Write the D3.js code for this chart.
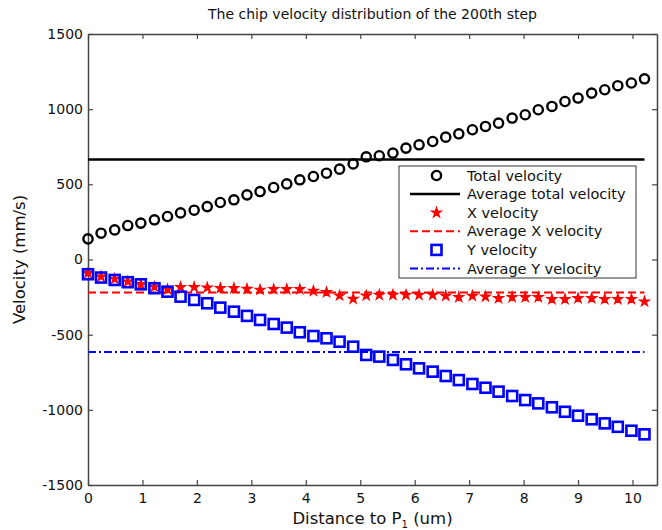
<!DOCTYPE html>
<html>
<head>
<meta charset="utf-8">
<script src="https://cdn.jsdelivr.net/npm/d3@7"></script>
<style>
  body { margin: 0; background: #fff; }
  text { font-family: "DejaVu Sans", sans-serif; fill: #111; }
</style>
</head>
<body>
<div id="chart"></div>
<script>
// distance to P1 (um)
const distance = [0, 0.24, 0.49, 0.73, 0.97, 1.22, 1.46, 1.70, 1.95, 2.19, 2.43,
    2.68, 2.92, 3.16, 3.41, 3.65, 3.89, 4.14, 4.38, 4.62, 4.87, 5.11, 5.35, 5.60,
    5.84, 6.08, 6.33, 6.57, 6.81, 7.06, 7.30, 7.54, 7.79, 8.03, 8.27, 8.52, 8.76,
    9.00, 9.25, 9.49, 9.73, 9.98, 10.22];

const totalVelocity = [137, 175, 197, 226, 242, 264, 286, 310, 328, 352, 379,
    397, 430, 452, 479, 503, 530, 552, 574, 601, 636, 683, 690, 708, 741, 763,
    785, 814, 836, 863, 885, 907, 941, 963, 996, 1018, 1051, 1074, 1107, 1129,
    1156, 1174, 1202];

const xVelocity = [-90, -114, -129, -147, -165, -182, -198, -184, -184, -187,
    -191, -191, -196, -202, -198, -198, -198, -209, -218, -240, -262, -240, -236,
    -236, -236, -236, -236, -242, -251, -242, -247, -258, -251, -251, -251, -264,
    -264, -258, -258, -264, -264, -264, -280];

const yVelocity = [-98, -120, -136, -151, -165, -191, -214, -247, -269, -291,
    -320, -347, -375, -402, -429, -453, -484, -509, -524, -547, -580, -635, -646,
    -668, -697, -724, -746, -775, -802, -828, -853, -879, -908, -935, -957, -983,
    -1013, -1039, -1063, -1090, -1113, -1139, -1163];

const avgTotal = 665;
const avgX = -220;
const avgY = -615;

const xTicks = [0, 1, 2, 3, 4, 5, 6, 7, 8, 9, 10];
const yTicks = [-1500, -1000, -500, 0, 500, 1000, 1500];

const legendLabels = ["Total velocity", "Average total velocity", "X velocity",
    "Average X velocity", "Y velocity", "Average Y velocity"];

// layout
const W = 662, H = 530;
const margin = { top: 34, right: 5, bottom: 45, left: 88 };
const width = W - margin.left - margin.right,
    height = H - margin.top - margin.bottom;

const svg = d3.select("#chart")
    .append("svg")
    .attr("width", W)
    .attr("height", H);

const g = svg.append("g")
    .attr("transform", `translate(${margin.left},${margin.top})`);

const x = d3.scaleLinear().domain([0, 10.45]).range([0, width]);
const y = d3.scaleLinear().domain([-1500, 1500]).range([height, 0]);

const axisColor = "#444";
const fontSize = 14;
const plain = d => String(d);

// axes with inward ticks, box on
function styleAxis(sel) {
    sel.select(".domain").attr("stroke", axisColor).attr("stroke-width", 1.5);
    sel.selectAll(".tick line").attr("stroke", axisColor).attr("stroke-width", 1.2);
    sel.selectAll("text").style("font-size", fontSize + "px")
        .style("font-family", "'DejaVu Sans', sans-serif").attr("fill", "#111");
}

g.append("g")
    .attr("transform", `translate(0,${height})`)
    .call(d3.axisBottom(x).tickValues(xTicks).tickFormat(plain)
        .tickSizeInner(-5).tickSizeOuter(0).tickPadding(8))
    .call(styleAxis);

g.append("g")
    .call(d3.axisTop(x).tickValues(xTicks).tickSizeInner(-5).tickSizeOuter(0).tickFormat(""))
    .call(styleAxis);

g.append("g")
    .call(d3.axisLeft(y).tickValues(yTicks).tickFormat(plain)
        .tickSizeInner(-5).tickSizeOuter(0).tickPadding(5))
    .call(styleAxis);

g.append("g")
    .attr("transform", `translate(${width},0)`)
    .call(d3.axisRight(y).tickValues(yTicks).tickSizeInner(-5).tickSizeOuter(0).tickFormat(""))
    .call(styleAxis);

const xEnd = distance[distance.length - 1];

// total velocity circles
g.append("g").selectAll("circle")
    .data(distance)
    .join("circle")
    .attr("cx", d => x(d))
    .attr("cy", (d, i) => y(totalVelocity[i]))
    .attr("r", 4.6)
    .attr("fill", "none")
    .attr("stroke", "#000")
    .attr("stroke-width", 2.4);

// average total velocity
g.append("line")
    .attr("x1", x(0)).attr("x2", x(xEnd))
    .attr("y1", y(avgTotal)).attr("y2", y(avgTotal))
    .attr("stroke", "#000").attr("stroke-width", 2.5);

// x velocity
const star = d3.symbol().type(d3.symbolStar).size(30);
g.append("g").selectAll("path")
    .data(distance)
    .join("path")
    .attr("d", star)
    .attr("transform", (d, i) => `translate(${x(d)},${y(xVelocity[i])})`)
    .attr("fill", "#f00")
    .attr("stroke", "#f00")
    .attr("stroke-width", 1.2);

g.append("line")
    .attr("x1", x(0)).attr("x2", x(xEnd))
    .attr("y1", y(avgX)).attr("y2", y(avgX))
    .attr("stroke", "#f00").attr("stroke-width", 2)
    .attr("stroke-dasharray", "8,4");

// y velocity squares
const sq = 10;
g.append("g").selectAll("rect")
    .data(distance)
    .join("rect")
    .attr("x", d => x(d) - sq / 2)
    .attr("y", (d, i) => y(yVelocity[i]) - sq / 2)
    .attr("width", sq)
    .attr("height", sq)
    .attr("fill", "none")
    .attr("stroke", "#00f")
    .attr("stroke-width", 2.6);

g.append("line")
    .attr("x1", x(0)).attr("x2", x(xEnd))
    .attr("y1", y(avgY)).attr("y2", y(avgY))
    .attr("stroke", "#00f").attr("stroke-width", 2)
    .attr("stroke-dasharray", "8,3,2,3");

// legend
const lg = svg.append("g").attr("transform", "translate(399,166)");
lg.append("rect")
    .attr("width", 237).attr("height", 112)
    .attr("fill", "#fff").attr("stroke", "#333").attr("stroke-width", 1);

const rowY = i => 9.5 + i * 18.6;
const sample = [11, 61];
const mid = 37.5;

lg.append("circle").attr("cx", mid).attr("cy", rowY(0)).attr("r", 4.6)
    .attr("fill", "none").attr("stroke", "#000").attr("stroke-width", 2.4);
lg.append("line").attr("x1", sample[0]).attr("x2", sample[1])
    .attr("y1", rowY(1)).attr("y2", rowY(1)).attr("stroke", "#000").attr("stroke-width", 2.5);
lg.append("path").attr("d", star).attr("transform", `translate(${mid},${rowY(2)})`)
    .attr("fill", "#f00").attr("stroke", "#f00").attr("stroke-width", 1.2);
lg.append("line").attr("x1", sample[0]).attr("x2", sample[1])
    .attr("y1", rowY(3)).attr("y2", rowY(3)).attr("stroke", "#f00").attr("stroke-width", 2)
    .attr("stroke-dasharray", "8,4");
lg.append("rect").attr("x", mid - sq / 2).attr("y", rowY(4) - sq / 2)
    .attr("width", sq).attr("height", sq)
    .attr("fill", "none").attr("stroke", "#00f").attr("stroke-width", 2.6);
lg.append("line").attr("x1", sample[0]).attr("x2", sample[1])
    .attr("y1", rowY(5)).attr("y2", rowY(5)).attr("stroke", "#00f").attr("stroke-width", 2)
    .attr("stroke-dasharray", "8,3,2,3");

lg.selectAll(".lbl")
    .data(legendLabels)
    .join("text")
    .attr("class", "lbl")
    .attr("x", 68)
    .attr("y", (d, i) => rowY(i))
    .attr("dy", "0.35em")
    .style("font-size", "14.5px")
    .text(d => d);

// title and axis labels
svg.append("text")
    .attr("x", margin.left + width / 2)
    .attr("y", 19)
    .attr("text-anchor", "middle")
    .style("font-size", "14px")
    .text("The chip velocity distribution of the 200th step");

const xl = svg.append("text")
    .attr("x", margin.left + width / 2)
    .attr("y", 524)
    .attr("text-anchor", "middle")
    .style("font-size", "16.5px");
xl.append("tspan").text("Distance to P");
xl.append("tspan").attr("dy", 4).style("font-size", "10px").text("1");
xl.append("tspan").attr("dy", -4).text(" (um)");

svg.append("text")
    .attr("transform", `translate(25,${margin.top + height / 2}) rotate(-90)`)
    .attr("text-anchor", "middle")
    .style("font-size", "16.5px")
    .text("Velocity (mm/s)");
</script>
</body>
</html>
